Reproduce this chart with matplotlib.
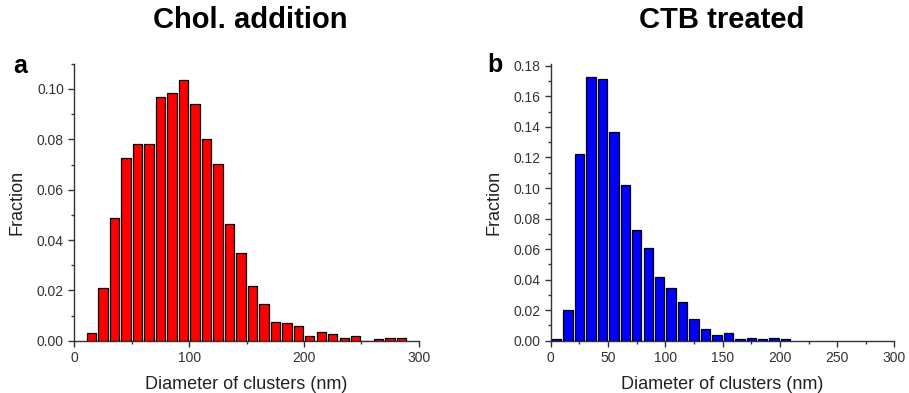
import matplotlib
matplotlib.use("Agg")
import matplotlib.pyplot as plt
from matplotlib.ticker import MultipleLocator, FormatStrFormatter

plt.rcParams['font.family'] = ['Liberation Sans', 'DejaVu Sans']

# Panel a: Chol. addition (bin centres, nm) and fractions
chol_centers = [15, 25, 35, 45, 55, 65, 75, 85, 95, 105, 115, 125, 135, 145,
                155, 165, 175, 185, 195, 205, 215, 225, 235, 245, 255, 265, 275, 285]
chol_frac = [0.0029, 0.0211, 0.0489, 0.0725, 0.0780, 0.0780, 0.0969, 0.0983,
             0.1037, 0.0941, 0.0800, 0.0702, 0.0465, 0.0350, 0.0219, 0.0144,
             0.0074, 0.0070, 0.0060, 0.0019, 0.0033, 0.0028, 0.0011, 0.0019,
             0.0, 0.0005, 0.0011, 0.0011]

# Panel b: CTB treated
ctb_centers = [5, 15, 25, 35, 45, 55, 65, 75, 85, 95, 105, 115, 125, 135,
               145, 155, 165, 175, 185, 195, 205]
ctb_frac = [0.0009, 0.0198, 0.1220, 0.1730, 0.1715, 0.1370, 0.1023, 0.0725,
            0.0604, 0.0419, 0.0343, 0.0252, 0.0145, 0.0076, 0.0039, 0.0048,
            0.0009, 0.0017, 0.0009, 0.0017, 0.0009]

titles = ["Chol. addition", "CTB treated"]
panel_labels = ["a", "b"]
xlabel = "Diameter of clusters (nm)"
ylabel = "Fraction"

fig = plt.figure(figsize=(9.09, 3.93), dpi=100)
ax1 = fig.add_axes([0.0818, 0.133, 0.379, 0.7046])
ax2 = fig.add_axes([0.606, 0.133, 0.378, 0.7033])

axis_col = "#333333"

def style(ax, ymax, ymajor, yminor, xmajor, xminor):
    ax.set_xlim(0, 300)
    ax.set_ylim(0, ymax)
    for s in ["top", "right"]:
        ax.spines[s].set_visible(False)
    for s in ["left", "bottom"]:
        ax.spines[s].set_color(axis_col)
        ax.spines[s].set_linewidth(1.0)
    ax.xaxis.set_major_locator(MultipleLocator(xmajor))
    ax.xaxis.set_minor_locator(MultipleLocator(xminor))
    ax.yaxis.set_major_locator(MultipleLocator(ymajor))
    ax.yaxis.set_minor_locator(MultipleLocator(yminor))
    ax.yaxis.set_major_formatter(FormatStrFormatter("%.2f"))
    ax.tick_params(which="major", direction="out", length=4, width=1.0,
                   color=axis_col, labelsize=10, labelcolor="#333333")
    ax.tick_params(which="minor", direction="out", length=2.2, width=1.0,
                   color=axis_col)
    ax.set_xlabel(xlabel, fontsize=13, color="#222222", labelpad=8)
    ax.set_ylabel(ylabel, fontsize=13, color="#222222", labelpad=8)

ax1.bar(chol_centers, chol_frac, width=8.2, color="#ff0000",
        edgecolor="black", linewidth=0.9, zorder=3)
ax2.bar(ctb_centers, ctb_frac, width=8.2, color="#0000ff",
        edgecolor="black", linewidth=0.9, zorder=3)

style(ax1, 0.11, 0.02, 0.01, 100, 50)
style(ax2, 0.181, 0.02, 0.01, 50, 25)

fig.text(250 / 909, 1 - 20 / 393, titles[0], ha="center", va="center",
         fontsize=21, fontweight="bold")
fig.text(722 / 909, 1 - 20 / 393, titles[1], ha="center", va="center",
         fontsize=21, fontweight="bold")
fig.text(20 / 909, 1 - 66 / 393, panel_labels[0], ha="center", va="center",
         fontsize=18, fontweight="bold")
fig.text(495 / 909, 1 - 65 / 393, panel_labels[1], ha="center", va="center",
         fontsize=18, fontweight="bold")

fig.savefig("out.png", dpi=100)
